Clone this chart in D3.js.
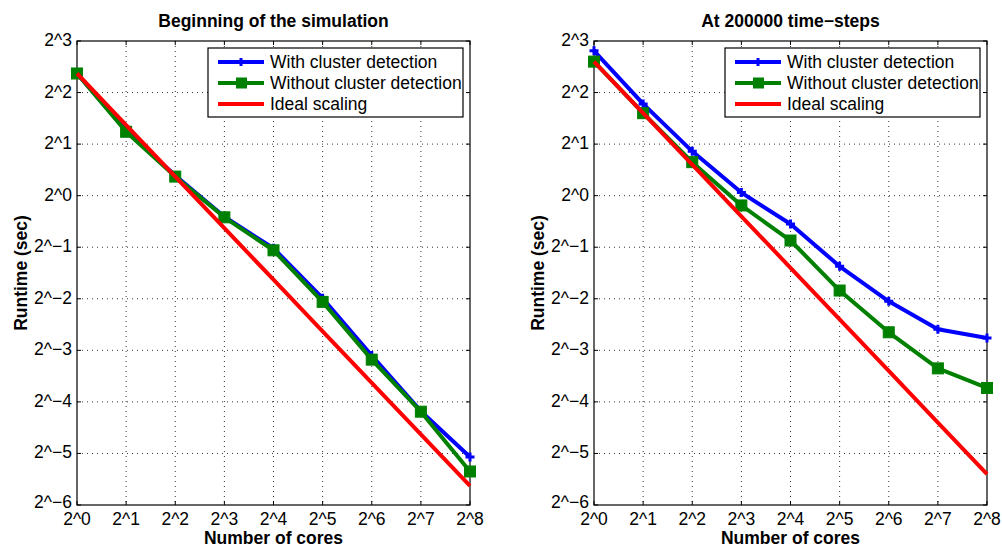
<!DOCTYPE html>
<html>
<head>
<meta charset="utf-8">
<script src="https://cdn.jsdelivr.net/npm/d3@7"></script>
<style>
  body { margin: 0; background: #fff; }
  svg { display: block; font-family: "Liberation Sans", Arial, Helvetica, sans-serif; }
</style>
</head>
<body>
<svg id="chart" width="1002" height="548"></svg>
<script>
// Cores (powers of two) on the x axis
const cores = [1, 2, 4, 8, 16, 32, 64, 128, 256];
const yTicks = [-6, -5, -4, -3, -2, -1, 0, 1, 2, 3];
const xTicks = [0, 1, 2, 3, 4, 5, 6, 7, 8];
const seriesNames = ['With cluster detection', 'Without cluster detection', 'Ideal scaling'];

// Runtime as log2(sec)
const leftWith    = [2.37, 1.26, 0.39, -0.41, -1.02, -1.99, -3.10, -4.18, -5.07];
const leftWithout = [2.37, 1.24, 0.37, -0.42, -1.06, -2.06, -3.18, -4.19, -5.35];
const leftIdeal   = [2.37, 1.37, 0.37, -0.63, -1.63, -2.63, -3.63, -4.63, -5.63];

const rightWith    = [2.81, 1.78, 0.86, 0.06, -0.55, -1.37, -2.05, -2.59, -2.76];
const rightWithout = [2.60, 1.60, 0.65, -0.19, -0.87, -1.84, -2.65, -3.35, -3.73];
const rightIdeal   = [2.60, 1.60, 0.60, -0.40, -1.40, -2.40, -3.40, -4.40, -5.40];

const panels = [
  { title: 'Beginning of the simulation', x0: 77, x1: 470, data: [leftWith, leftWithout, leftIdeal] },
  { title: 'At 200000 time\u2212steps', x0: 594, x1: 987, data: [rightWith, rightWithout, rightIdeal] }
];

const colors = ['#0000ff', '#008000', '#ff0000'];
const yTop = 41, yBot = 505;
const FS = 17.5;

const svg = d3.select('#chart');
const fmt = e => '2^' + (e < 0 ? '\u2212' + (-e) : e);

panels.forEach(p => {
  const x = d3.scaleLog().base(2).domain([1, 256]).range([p.x0, p.x1]);
  const y = d3.scaleLinear().domain([-6, 3]).range([yBot, yTop]); // log2 runtime
  const g = svg.append('g');

  // grid
  g.selectAll('.gx').data(xTicks.slice(1, -1)).join('line')
    .attr('x1', d => x(2 ** d)).attr('x2', d => x(2 ** d))
    .attr('y1', yTop).attr('y2', yBot)
    .attr('stroke', '#333').attr('stroke-width', 1).attr('stroke-dasharray', '1,4');
  g.selectAll('.gy').data(yTicks.slice(1, -1)).join('line')
    .attr('y1', d => y(d)).attr('y2', d => y(d))
    .attr('x1', p.x0).attr('x2', p.x1)
    .attr('stroke', '#333').attr('stroke-width', 1).attr('stroke-dasharray', '1,4');

  // inner ticks, like matlab
  xTicks.forEach(d => {
    g.append('line').attr('x1', x(2 ** d)).attr('x2', x(2 ** d)).attr('y1', yBot).attr('y2', yBot - 4).attr('stroke', '#000');
    g.append('line').attr('x1', x(2 ** d)).attr('x2', x(2 ** d)).attr('y1', yTop).attr('y2', yTop + 4).attr('stroke', '#000');
  });
  yTicks.forEach(d => {
    g.append('line').attr('x1', p.x0).attr('x2', p.x0 + 4).attr('y1', y(d)).attr('y2', y(d)).attr('stroke', '#000');
    g.append('line').attr('x1', p.x1).attr('x2', p.x1 - 4).attr('y1', y(d)).attr('y2', y(d)).attr('stroke', '#000');
  });

  // box
  g.append('rect').attr('x', p.x0).attr('y', yTop)
    .attr('width', p.x1 - p.x0).attr('height', yBot - yTop)
    .attr('fill', 'none').attr('stroke', '#000').attr('stroke-width', 1.2);

  // tick labels
  g.selectAll('.yl').data(yTicks).join('text')
    .attr('x', p.x0 - 5).attr('y', d => y(d) + (d === -6 ? 3 : 5))
    .attr('text-anchor', 'end').attr('font-size', FS)
    .text(fmt);
  g.selectAll('.xl').data(xTicks).join('text')
    .attr('x', d => x(2 ** d)).attr('y', yBot + 20)
    .attr('text-anchor', 'middle').attr('font-size', FS)
    .text(fmt);

  // titles / labels
  g.append('text').attr('x', (p.x0 + p.x1) / 2).attr('y', 27)
    .attr('text-anchor', 'middle').attr('font-size', FS).attr('font-weight', 'bold')
    .text(p.title);
  g.append('text').attr('x', (p.x0 + p.x1) / 2).attr('y', 544)
    .attr('text-anchor', 'middle').attr('font-size', FS).attr('font-weight', 'bold')
    .text('Number of cores');
  g.append('text')
    .attr('transform', `translate(${p.x0 - 50},${(yTop + yBot) / 2}) rotate(-90)`)
    .attr('text-anchor', 'middle').attr('font-size', FS).attr('font-weight', 'bold')
    .text('Runtime (sec)');

  // lines
  const line = d3.line().x((d, i) => x(cores[i])).y(d => y(d));
  [0, 1, 2].forEach(s => {
    g.append('path').datum(p.data[s])
      .attr('d', line).attr('fill', 'none')
      .attr('stroke', colors[s]).attr('stroke-width', 4)
      .attr('stroke-linejoin', 'round');
    if (s === 0) {
      g.selectAll(null).data(p.data[s]).join('path')
        .attr('d', (d, i) => {
          const cx = x(cores[i]), cy = y(d);
          return `M${cx - 4.5},${cy}H${cx + 4.5}M${cx},${cy - 4.5}V${cy + 4.5}`;
        })
        .attr('stroke', colors[s]).attr('stroke-width', 3);
    } else if (s === 1) {
      g.selectAll(null).data(p.data[s]).join('rect')
        .attr('x', (d, i) => x(cores[i]) - 5.5).attr('y', d => y(d) - 5.5)
        .attr('width', 11).attr('height', 11)
        .attr('fill', colors[s]).attr('stroke', colors[s]).attr('stroke-width', 1);
    }
  });

  // legend
  const lx = p.x0 + 131, ly = 48;
  const lg = g.append('g').attr('transform', `translate(${lx},${ly})`);
  lg.append('rect').attr('width', 255).attr('height', 69)
    .attr('fill', '#fff').attr('stroke', '#000').attr('stroke-width', 1.2);
  seriesNames.forEach((name, i) => {
    const ry = 14 + i * 21;
    lg.append('line').attr('x1', 10).attr('x2', 56).attr('y1', ry).attr('y2', ry)
      .attr('stroke', colors[i]).attr('stroke-width', 4);
    if (i === 0) {
      lg.append('path').attr('d', `M29,${ry}H37M33,${ry - 4}V${ry + 4}`)
        .attr('stroke', colors[i]).attr('stroke-width', 3);
    } else if (i === 1) {
      lg.append('rect').attr('x', 28).attr('y', ry - 5.5).attr('width', 11).attr('height', 11)
        .attr('fill', colors[i]);
    }
    lg.append('text').attr('x', 62).attr('y', ry + 6).attr('font-size', FS).text(name);
  });
});
</script>
</body>
</html>
